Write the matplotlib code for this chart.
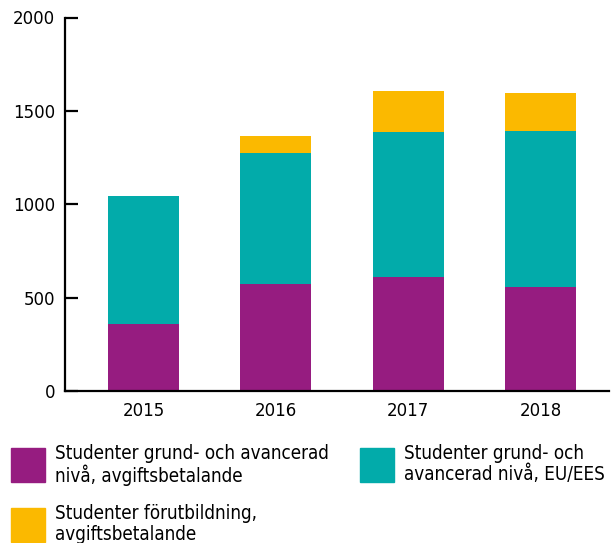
import matplotlib
matplotlib.use("Agg")
import matplotlib.pyplot as plt
from matplotlib.patches import Rectangle
from matplotlib import font_manager
import numpy as np

# data
years = ["2015", "2016", "2017", "2018"]
grund_avgift = [360, 575, 610, 557]
grund_eu = [685, 700, 778, 836]
forutbildning = [0, 91, 220, 203]

labels = [
    "Studenter grund- och avancerad\nnivå, avgiftsbetalande",
    "Studenter grund- och\navancerad nivå, EU/EES",
    "Studenter förutbildning,\navgiftsbetalande",
]
colors = ["#961C80", "#02ABAA", "#FBB900"]

fig = plt.figure(figsize=(6.13, 5.43), dpi=100)
ax = fig.add_axes([65 / 613, 1 - 391 / 543, 544 / 613, 373.5 / 543])

x = np.arange(len(years))
w = 0.537
ax.bar(x, grund_avgift, w, color=colors[0])
ax.bar(x, grund_eu, w, bottom=grund_avgift, color=colors[1])
bottom3 = np.array(grund_avgift) + np.array(grund_eu)
ax.bar(x, forutbildning, w, bottom=bottom3, color=colors[2])

ax.set_xlim(-0.593, 3.518)
ax.set_ylim(0, 2000)
ax.set_yticks([0, 500, 1000, 1500, 2000])
ax.set_xticks(x)
ax.set_xticklabels(years)

for s in ["top", "right"]:
    ax.spines[s].set_visible(False)
for s in ["left", "bottom"]:
    ax.spines[s].set_linewidth(1.6)

ax.tick_params(axis="y", direction="in", length=9, width=1.6, pad=7, labelsize=12)
ax.tick_params(axis="x", length=0, pad=8, labelsize=12)

# legend drawn by hand: square + two-line label
cond = font_manager.FontProperties(family="DejaVu Sans", stretch="condensed", size=13.5)
legend_pos = [(11, 448), (360, 448), (11, 508)]  # figure pixels from top-left
for (px, py), lab, col in zip(legend_pos, labels, colors):
    fig.add_artist(Rectangle((px / 613, 1 - (py + 34) / 543), 34 / 613, 34 / 543,
                             transform=fig.transFigure, color=col))
    fig.text((px + 44) / 613, 1 - (py - 4) / 543, lab, fontproperties=cond,
             va="top", ha="left", linespacing=1.1)

fig.savefig("out.png", dpi=100)
